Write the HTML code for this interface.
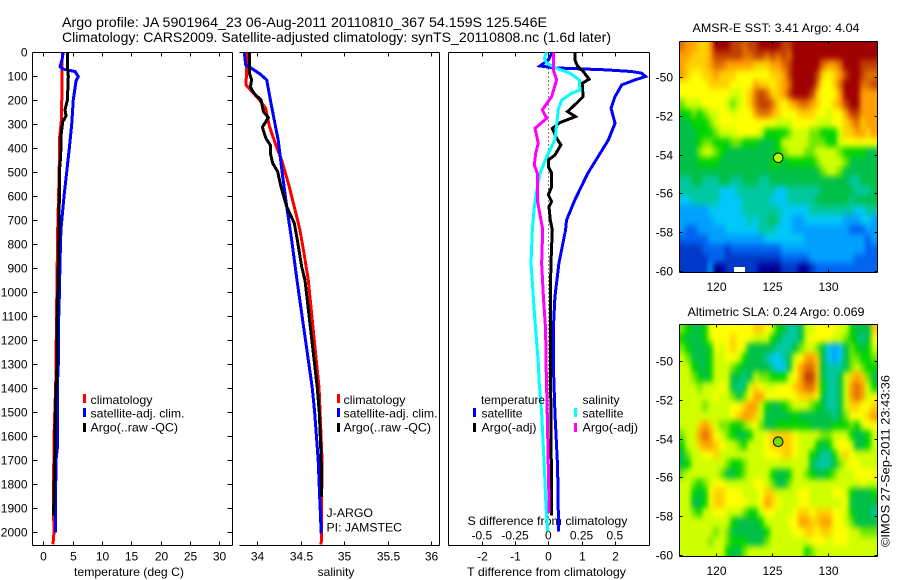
<!DOCTYPE html>
<html>
<head>
<meta charset="utf-8">
<title>Argo profile chart</title>
<style>
html,body{margin:0;padding:0;background:#fff;}
svg{display:block;}
text{font-family:"Liberation Sans",sans-serif;font-size:12px;fill:#000;}
</style>
</head>
<body>
<svg id="chart" xmlns="http://www.w3.org/2000/svg" width="900" height="580" viewBox="0 0 900 580">
<defs>
<filter id="mapBlur" filterUnits="userSpaceOnUse" x="640" y="0" width="260" height="580" color-interpolation-filters="sRGB"><feGaussianBlur stdDeviation="2.4 3.2"/></filter>
<clipPath id="sstClip"><rect x="680" y="41" width="197" height="231"/></clipPath>
<clipPath id="slaClip"><rect x="680" y="324" width="197" height="232"/></clipPath>
</defs>
<text x="62" y="27" style="font-size:14px" textLength="485" lengthAdjust="spacingAndGlyphs">Argo profile: JA 5901964_23 06-Aug-2011 20110810_367 54.159S 125.546E</text>
<text x="62" y="42" style="font-size:14px" textLength="549" lengthAdjust="spacingAndGlyphs">Climatology: CARS2009. Satellite-adjusted climatology: synTS_20110808.nc (1.6d later)</text>
<text x="74" y="576" textLength="110" lengthAdjust="spacingAndGlyphs">temperature (deg C)</text>
<text x="336" y="576" text-anchor="middle">salinity</text>
<text x="467" y="576" textLength="159" lengthAdjust="spacingAndGlyphs">T difference from climatology</text>
<text x="467.5" y="525" textLength="160" lengthAdjust="spacingAndGlyphs">S difference from climatology</text>
<text x="326.5" y="517" textLength="46.5" lengthAdjust="spacingAndGlyphs">J-ARGO</text>
<text x="326.5" y="531.5" textLength="75.5" lengthAdjust="spacingAndGlyphs">PI: JAMSTEC</text>
<text x="692.5" y="32" textLength="167" lengthAdjust="spacingAndGlyphs">AMSR-E SST: 3.41 Argo: 4.04</text>
<text x="687.5" y="316" textLength="177" lengthAdjust="spacingAndGlyphs">Altimetric SLA: 0.24 Argo: 0.069</text>
<text transform="translate(889.5,547) rotate(-90)" textLength="172" lengthAdjust="spacingAndGlyphs">©IMOS 27-Sep-2011 23:43:36</text>
</svg>
<script>
// ---- temperature panel data ----
const depthTicks = [0,100,200,300,400,500,600,700,800,900,1000,1100,1200,1300,1400,1500,1600,1700,1800,1900,2000];
const tempTicks = [0,5,10,15,20,25,30];
const tempClimDepth = [0,100,280,350,500,740,1050,1392,1550,1850,2000,2050];
const tempClimValue = [3.24,3.2,3.1,2.8,2.7,2.45,2.28,2.11,1.88,1.7,1.82,1.65];
const tempSatDepth = [0,30,60,70,80,100,120,200,300,400,500,600,740,879,1018,1157,1297,1392,1650,1700,1950,2000];
const tempSatValue = [3.4,3.2,2.85,3.4,5.4,5.96,5.57,5.1,4.84,4.43,3.98,3.53,3.0,2.84,2.73,2.56,2.56,2.39,2.39,2.16,2.05,2.05];
const tempArgoDepth = [0,60,100,200,240,265,290,350,400,450,500,600,740,879,1018,1157,1297,1450,1700,1900,1930];
const tempArgoValue = [4.09,4.09,4.26,4.1,3.7,3.87,3.3,3.0,3.0,2.9,2.73,2.73,2.67,2.56,2.45,2.33,2.33,2.1,1.94,1.77,1.77];

// ---- salinity panel data ----
const salTicks = [34,34.5,35,35.5,36];
const salTickLabels = ['34','34.5','35','35.5','36'];
const salClimDepth = [0,136,150,192,233,310,393,449,546,643,740,838,949,1399,1699,2050];
const salClimValue = [33.885,33.87,33.905,34.01,34.096,34.14,34.22,34.28,34.357,34.425,34.49,34.537,34.586,34.71,34.744,34.735];
const salSatDepth = [0,53,67,90,115,227,365,503,643,782,949,1399,1503,1700,1853,2005];
const salSatValue = [33.85,33.867,33.935,34.03,34.108,34.165,34.24,34.287,34.338,34.395,34.456,34.632,34.66,34.70,34.717,34.735];
const salArgoDepth = [0,86,115,144,170,199,247,272,312,357,387,420,462,497,560,643,712,782,893,949,1399,1503,1700,1853];
const salArgoValue = [33.908,33.908,33.935,33.92,33.96,34.043,34.07,34.127,34.058,34.097,34.15,34.15,34.177,34.234,34.272,34.338,34.425,34.46,34.51,34.548,34.69,34.713,34.735,34.74];

// ---- difference panel data ----
const tDiffTicks = [-2,-1,0,1,2];
const sDiffTicks = [-0.5,-0.25,0,0.25,0.5];
const sDiffTickLabels = ['-0.5','-0.25','0','0.25','0.5'];
const tDiffSatDepth = [0,32,57,65,73,80,87,101,115,136,185,233,296,365,428,504,615,699,740,879,1018,1157,1295,1503,1727,1997];
const tDiffSatValue = [0.12,0,-0.25,0.2,1.71,2.51,2.81,2.93,2.61,2.21,2.01,1.89,2.01,1.81,1.53,1.19,0.8,0.55,0.52,0.32,0.2,0.15,0.15,0.2,0.28,0.31];
const tDiffArgoDepth = [0,32,57,80,112,129,185,212,247,268,293,317,358,386,428,449,476,504,560,594,622,643,699,740,879,1018,1157,1295,1503,1930];
const tDiffArgoValue = [0.8,0.8,0.88,1.05,1.23,1.02,1.05,0.85,0.58,0.82,0.35,0.12,0.25,0.38,0.2,0,0,0.1,0.1,0,0.1,0.02,0.06,0.12,0.08,0.06,0.06,0.06,0.08,0.1];
const sDiffSatDepth = [0,25,46,67,87,115,157,171,199,240,365,435,504,574,643,740,879,1018,1157,1295,1365,1503,1727,1895,1997];
const sDiffSatValue = [-0.012,-0.03,-0.012,0.063,0.163,0.233,0.238,0.176,0.1,0.075,0.05,-0.012,-0.062,-0.087,-0.105,-0.12,-0.13,-0.113,-0.095,-0.075,-0.07,-0.05,-0.03,-0.017,-0.005];
const sDiffArgoDepth = [0,73,115,185,240,275,317,379,421,469,504,615,699,740,879,1018,1157,1295,1503,1920];
const sDiffArgoValue = [0.038,0.038,0.063,0.025,-0.045,-0.012,-0.1,-0.075,-0.095,-0.105,-0.083,-0.083,-0.055,-0.042,-0.05,-0.037,-0.02,-0.017,-0.008,0.007];

// ---- map data (colour level per 0.5 degree cell, north to south) ----
const mapLonTicks = [120,125,130];
const mapLatTicks = [-50,-52,-54,-56,-58,-60];
const floatLon = [125.55];
const floatLat = [-54.16];
const sstCellLevels = [
[13,12,12,11,11,12,15,15,15,14,14,13,14,14,15,15,15,15,14,14,15,15,15,15,15,15,15,15,15,15,15,15,15,15,15],
[12,12,11,11,11,12,14,14,14,14,14,13,13,14,14,13,14,13,14,13,15,15,15,15,15,15,15,15,15,15,15,15,15,15,15],
[12,11,11,11,11,12,13,13,12,12,12,12,12,11,11,11,12,12,13,14,15,15,15,15,15,13,12,12,13,15,15,15,14,14,14],
[12,11,10,10,11,11,12,11,11,11,10,10,10,10,10,10,11,11,12,14,15,15,15,15,14,11,10,11,12,14,15,15,14,13,13],
[10,10,10,10,10,11,11,11,11,10,10,10,10,12,11,11,10,11,12,13,15,15,15,15,13,10,10,11,13,15,15,15,13,13,14],
[10,10,10,10,10,10,10,10,10,9,9,10,11,13,14,13,11,11,12,14,15,15,15,14,11,10,10,10,12,15,15,15,12,12,12],
[8,9,9,9,10,10,10,10,9,8,9,10,11,13,14,14,13,11,10,11,12,13,13,12,11,10,10,11,12,14,15,15,12,12,12],
[7,7,8,7,8,9,9,10,10,9,10,10,10,12,13,13,12,11,10,10,10,11,11,11,10,10,9,10,10,12,14,14,12,12,12],
[6,6,7,7,7,8,9,10,10,10,10,10,10,10,10,10,10,9,9,9,10,10,10,10,9,9,9,10,10,11,12,13,11,12,12],
[6,6,6,7,7,7,8,9,9,9,10,10,10,10,9,7,7,7,7,8,9,9,9,8,8,7,7,7,9,11,11,12,12,11,12],
[6,6,6,7,8,8,7,7,7,8,8,7,7,7,6,6,6,7,9,9,9,9,9,8,8,8,7,7,9,10,10,10,10,10,10],
[6,6,6,8,9,9,8,7,6,6,6,6,6,6,6,6,6,7,8,9,9,9,8,8,9,9,9,9,8,7,7,7,7,6,6],
[6,6,6,7,7,7,7,6,6,6,6,6,6,6,6,6,7,7,6,7,7,7,7,7,8,9,9,9,9,8,6,6,6,6,6],
[6,6,6,6,6,6,6,6,6,6,6,6,6,6,6,6,6,6,6,6,6,6,6,6,6,8,9,9,8,6,6,6,6,6,6],
[5,5,6,6,5,5,5,6,6,5,5,6,6,6,5,5,6,6,6,6,6,6,6,6,6,6,6,6,6,6,5,5,6,6,6],
[5,5,5,5,5,5,5,4,4,4,5,5,5,5,5,5,5,4,4,5,5,5,5,5,5,6,6,6,6,6,6,5,5,5,6],
[4,4,5,5,5,5,5,4,4,4,4,5,5,5,5,5,4,4,4,5,5,5,5,5,6,6,6,6,6,6,5,6,6,6,6],
[3,3,3,3,3,4,4,4,4,4,4,5,5,5,5,5,5,5,4,4,4,4,4,5,5,5,5,5,5,5,5,4,4,5,5],
[3,3,3,3,3,3,4,4,4,4,4,4,5,4,5,5,6,5,4,4,3,3,4,4,4,4,4,4,4,3,3,3,4,4,3],
[3,2,2,3,3,3,3,3,4,4,4,4,4,4,5,5,5,4,4,4,3,3,3,3,3,3,3,3,3,3,2,2,2,3,3],
[2,2,2,2,2,3,3,3,3,3,3,3,3,3,3,4,4,4,4,4,4,4,3,3,3,3,3,3,3,3,3,3,3,2,3],
[1,1,1,1,2,2,2,2,1,2,2,2,2,2,2,2,2,2,3,3,3,3,3,3,3,3,3,3,3,3,3,3,3,2,2],
[1,1,1,1,1,2,2,2,1,1,1,1,1,1,1,1,1,1,2,2,2,2,2,3,3,3,3,3,3,3,3,2,2,2,2],
[1,1,1,1,1,3,0,0,1,1,1,1,1,1,0,0,0,0,1,1,1,0,0,1,2,2,2,2,2,2,2,2,2,2,2]
];
const slaCellLevels = [
[8,7,6,6,7,10,10,10,10,10,10,10,10,11,11,10,9,7,6,5,5,6,9,9,10,10,10,10,9,9,7,6,6,6,11],
[7,6,6,6,7,9,10,10,10,11,10,10,10,9,9,9,7,6,5,5,5,6,9,10,10,10,10,9,9,8,7,6,5,6,10],
[8,7,6,6,6,7,10,9,10,11,10,9,6,6,6,6,6,5,5,5,6,8,9,9,8,6,4,3,4,6,8,7,6,7,9],
[9,8,6,6,6,7,9,9,10,10,9,7,6,6,6,5,4,4,5,6,9,10,12,12,11,6,4,3,4,6,8,8,7,7,8],
[9,9,7,6,6,7,9,9,9,8,7,6,6,6,6,6,5,4,4,6,10,12,13,13,11,6,5,5,5,6,8,9,8,7,7],
[9,9,8,7,6,7,9,9,9,6,6,5,6,9,8,8,7,7,7,9,10,12,14,14,11,6,5,5,6,9,11,12,11,8,6],
[9,9,9,8,9,9,9,10,9,6,5,6,9,11,10,9,9,10,10,10,11,12,13,13,11,7,5,5,6,9,12,13,12,9,7],
[9,9,9,9,9,9,10,9,9,8,6,8,10,12,12,10,10,10,10,10,10,11,11,11,10,6,5,5,6,9,12,13,12,9,10],
[9,9,9,9,8,9,9,9,9,10,10,11,12,12,9,7,6,6,7,8,9,9,9,8,7,6,5,5,6,9,11,11,10,10,11],
[9,9,9,9,9,9,9,9,9,10,11,12,12,11,9,6,6,6,6,6,7,6,6,6,6,6,6,5,6,8,10,10,10,11,12],
[9,9,9,11,12,11,9,8,8,7,7,8,9,10,8,6,6,7,7,7,7,7,7,6,6,6,6,7,7,7,8,7,9,10,10],
[8,9,9,12,13,12,10,9,8,7,6,6,7,9,9,10,11,11,11,11,10,9,9,9,9,8,8,9,9,9,7,6,6,7,9],
[7,9,9,11,12,12,11,10,9,9,8,7,9,9,9,10,11,11,11,11,10,9,9,9,7,6,7,9,10,10,9,6,6,7,9],
[6,8,9,9,10,10,11,9,9,9,9,9,9,9,9,10,10,10,11,11,10,9,9,7,6,5,5,7,9,11,10,9,9,9,9],
[6,7,9,9,9,9,9,9,8,7,7,8,9,9,9,9,9,9,9,9,9,9,9,6,5,5,5,6,8,9,10,10,9,9,9],
[8,9,9,9,9,9,9,8,6,6,7,8,9,9,9,9,7,6,6,7,9,9,8,7,6,6,7,8,9,9,9,10,10,10,10],
[9,9,8,7,8,9,10,10,9,9,9,9,9,10,10,9,8,6,6,8,9,9,9,9,9,9,9,9,9,9,9,9,10,9,9],
[9,9,7,6,7,10,11,11,10,10,10,9,9,9,10,11,11,9,9,9,9,10,10,9,9,9,9,10,10,9,7,6,6,6,7],
[9,9,6,6,7,10,11,11,10,10,10,10,9,9,10,12,11,10,9,9,9,10,10,9,9,9,9,9,9,10,6,6,6,6,6],
[9,9,8,7,9,9,10,10,9,9,9,8,7,7,9,10,10,9,9,9,10,11,11,10,11,11,11,10,10,9,7,6,6,6,5],
[9,9,9,9,9,9,9,9,9,7,6,6,6,6,7,9,9,9,9,10,10,12,12,11,11,12,12,10,10,9,8,6,6,6,6],
[9,9,9,9,9,9,8,9,8,6,6,6,6,6,6,7,9,9,9,9,10,10,11,11,10,11,11,10,10,10,9,9,8,8,8],
[9,9,9,9,9,8,9,9,8,7,7,7,6,6,6,8,9,9,9,9,9,9,9,10,10,10,9,10,10,10,9,9,9,9,9],
[9,9,9,9,9,9,9,9,7,6,6,8,9,9,9,9,9,9,9,9,9,9,7,8,9,9,9,9,9,9,9,9,9,9,9]
];

const svg = document.getElementById('chart');
const NS = 'http://www.w3.org/2000/svg';
const palette = ['#000098','#0038c8','#0064f0','#00a0ff','#00c8f8','#00c8a0','#00c048','#00d400','#70e800','#d0ff00','#ffff00','#ffd000','#ffa000','#e07000','#c04000','#a00000'];
function levelColor(v){ return palette[Math.max(0,Math.min(palette.length-1,Math.round(v)))]; }

function line(x1,y1,x2,y2,name,color,dash){
  const el = document.createElementNS(NS,'line');
  el.setAttribute('x1',x1); el.setAttribute('y1',y1); el.setAttribute('x2',x2); el.setAttribute('y2',y2);
  el.setAttribute('stroke',color||'#000'); el.setAttribute('stroke-width',1);
  el.setAttribute('shape-rendering','crispEdges');
  if(dash) el.setAttribute('stroke-dasharray',dash);
  
  
  svg.appendChild(el);
  return el;
}
function label(x,y,str,anchor,name,len){
  const el = document.createElementNS(NS,'text');
  el.setAttribute('x',x); el.setAttribute('y',y);
  el.setAttribute('text-anchor',anchor||'start');
  if(len){ el.setAttribute('textLength',len); el.setAttribute('lengthAdjust','spacingAndGlyphs'); }
  el.textContent = str;
  
  
  svg.appendChild(el);
  return el;
}
function series(depths,values,xScale,yScale,color,name,width){
  const el = document.createElementNS(NS,'polyline');
  el.setAttribute('points',depths.map((d,i)=>xScale(values[i]).toFixed(2)+','+yScale(d).toFixed(2)).join(' '));
  el.setAttribute('fill','none'); el.setAttribute('stroke',color); el.setAttribute('stroke-width',width||3);
  el.setAttribute('shape-rendering','crispEdges');
  
  
  svg.appendChild(el);
}
function legendBar(x,y,color,name){
  const el = document.createElementNS(NS,'rect');
  el.setAttribute('x',x); el.setAttribute('y',y); el.setAttribute('width',3); el.setAttribute('height',9);
  el.setAttribute('fill',color);
  
  
  svg.appendChild(el);
}

const top0 = 52.5, bot0 = 545.5;
const yDepth = d => 52.3 + d*0.24;
const xTemp = t => 43.3 + t*5.87;
const xSal = s => 257.3 + (s-34)*87;
const xTDiff = t => 548.3 + t*33.2;
const xSDiff = s => 548.3 + s*133;

// panel frames
const pL = [32.5,239.5,448.5], pR = [232.5,439.5,649.5];
pL.forEach((l,i)=>{
  line(l,top0,pR[i],top0,'panel-top-border');
  line(l,bot0,pR[i],bot0,'panel-bottom-border');
  line(pR[i],top0,pR[i],bot0,'panel-right-border');
  if(i!==1) line(l,top0,l,bot0,'panel-left-border');
});
// depth ticks panel 1
depthTicks.forEach(d=>{
  const y = Math.round(yDepth(d))+0.5;
  line(32.5,y,37.5,y,'depth-tick-left');
  line(227.5,y,232.5,y,'depth-tick-right');
  label(27.5,y+4,String(d),'end','depth-tick-label');
});
// temp x axis
tempTicks.forEach(t=>{
  const x = Math.round(xTemp(t))+0.5;
  line(x,top0,x,top0+4,'temperature-tick-top');
  line(x,bot0-4,x,bot0,'temperature-tick-bottom');
  label(x,560.5,String(t),'middle','temperature-tick-label');
});
// sal x axis
salTicks.forEach((s,i)=>{
  const x = Math.round(xSal(s))+0.5;
  line(x,top0,x,top0+4,'salinity-tick-top');
  line(x,bot0-4,x,bot0,'salinity-tick-bottom');
  label(x,560.5,salTickLabels[i],'middle','salinity-tick-label');
});
// diff x axes
tDiffTicks.forEach(t=>{
  const x = Math.round(xTDiff(t))+0.5;
  line(x,top0,x,top0+4,'t-difference-tick-top');
  line(x,bot0-4,x,bot0,'t-difference-tick-bottom');
  label(x,560.5,String(t),'middle','t-difference-tick-label');
});
sDiffTicks.forEach((s,i)=>{
  label(xSDiff(s),539.5,sDiffTickLabels[i],'middle','s-difference-tick-label');
});

// series
series(tempClimDepth,tempClimValue,xTemp,yDepth,'#ff0000','temperature-climatology-line');
series(tempSatDepth,tempSatValue,xTemp,yDepth,'#0000ff','temperature-satellite-line');
series(tempArgoDepth,tempArgoValue,xTemp,yDepth,'#000000','temperature-argo-line');
series(salClimDepth,salClimValue,xSal,yDepth,'#ff0000','salinity-climatology-line');
series(salSatDepth,salSatValue,xSal,yDepth,'#0000ff','salinity-satellite-line');
series(salArgoDepth,salArgoValue,xSal,yDepth,'#000000','salinity-argo-line');
line(548.5,52.5,548.5,yDepth(1950),'zero-difference-line','#000','1 3');
series(tDiffSatDepth,tDiffSatValue,xTDiff,yDepth,'#0000ff','t-difference-satellite-line');
series(tDiffArgoDepth,tDiffArgoValue,xTDiff,yDepth,'#000000','t-difference-argo-line');
series(sDiffSatDepth,sDiffSatValue,xSDiff,yDepth,'#00ffff','s-difference-satellite-line');
series(sDiffArgoDepth,sDiffArgoValue,xSDiff,yDepth,'#ff00ff','s-difference-argo-line');

// legends
const legY = [394,408,423], legBase = [404,417.5,431.5];
[['climatology','#ff0000',62],['satellite-adj. clim.','#0000ff',94],['Argo(..raw -QC)','#000000',87.5]].forEach((e,i)=>{
  legendBar(83,legY[i],e[1],'temperature-legend-swatch');
  label(90.5,legBase[i],e[0],'start','temperature-legend-label',e[2]);
  legendBar(337,legY[i],e[1],'salinity-legend-swatch');
  label(343.5,legBase[i],e[0],'start','salinity-legend-label',e[2]);
});
label(481,legBase[0],'temperature','start','difference-legend-temperature-header',64);
label(582.5,legBase[0],'salinity','start','difference-legend-salinity-header',37);
legendBar(473,legY[1],'#0000ff','difference-legend-swatch');
label(481.5,legBase[1],'satellite','start','difference-legend-label',41);
legendBar(473,legY[2],'#000000','difference-legend-swatch');
label(481.5,legBase[2],'Argo(-adj)','start','difference-legend-label',55);
legendBar(574,legY[1],'#00ffff','difference-legend-swatch');
label(582.5,legBase[1],'satellite','start','difference-legend-label',41);
legendBar(574,legY[2],'#ff00ff','difference-legend-swatch');
label(582.5,legBase[2],'Argo(-adj)','start','difference-legend-label',55.5);

// maps
function drawMap(levels,topLat,pxTop,pxBot,mapName,tickBase,clipId){
  const lonX = lon => 715.7 + (lon-120)*11.26;
  const latY = lat => pxTop + (topLat-lat)*19.33;
  const lonStart = 116.8;
  const clipGroup = document.createElementNS(NS,'g');
  clipGroup.setAttribute('clip-path','url(#'+clipId+')');
  
  
  const cells = document.createElementNS(NS,'g');
  cells.setAttribute('filter','url(#mapBlur)');
  
  
  clipGroup.appendChild(cells);
  svg.appendChild(clipGroup);
  const pad = 14;
  levels.forEach((row,r)=>{
    row.forEach((v,c)=>{
      let x0 = Math.round(lonX(lonStart+c*0.5)), x1 = Math.round(lonX(lonStart+(c+1)*0.5));
      let y0 = Math.round(latY(topLat-r*0.5)), y1 = Math.round(latY(topLat-(r+1)*0.5));
      if(c===0) x0 -= pad;
      if(c===row.length-1) x1 += pad;
      if(r===0) y0 -= pad;
      if(r===levels.length-1) y1 += pad;
      const el = document.createElementNS(NS,'rect');
      el.setAttribute('x',x0); el.setAttribute('y',y0);
      el.setAttribute('width',x1-x0); el.setAttribute('height',y1-y0);
      el.setAttribute('fill',levelColor(v));
      el.setAttribute('shape-rendering','crispEdges');
      
      
      cells.appendChild(el);
    });
  });
  const L = 679.5, R = 877.5, T = pxTop+0.5, B = pxBot+0.5;
  line(L,T,R,T,mapName+'-top-border');
  line(L,B,R,B,mapName+'-bottom-border');
  line(L,T,L,B,mapName+'-left-border');
  line(R,T,R,B,mapName+'-right-border');
  mapLonTicks.forEach(lon=>{
    const x = Math.round(lonX(lon))+0.5;
    line(x,T,x,T+3,mapName+'-lon-tick');
    line(x,B-3,x,B,mapName+'-lon-tick');
    label(x,tickBase,String(lon),'middle',mapName+'-lon-label');
  });
  mapLatTicks.forEach(lat=>{
    const y = Math.round(latY(lat))+0.5;
    line(L,y,L+3,y,mapName+'-lat-tick');
    line(R-3,y,R,y,mapName+'-lat-tick');
    label(673,y+4,String(lat),'end',mapName+'-lat-label');
  });
  const m = document.createElementNS(NS,'circle');
  m.setAttribute('cx',lonX(floatLon[0])); m.setAttribute('cy',latY(floatLat[0]));
  m.setAttribute('r',4.8);
  m.setAttribute('fill',mapName==='sst-map'?'#b0ff00':'#70e000');
  m.setAttribute('stroke','#000'); m.setAttribute('stroke-width',1);
  
  
  svg.appendChild(m);
}
drawMap(sstCellLevels,-48.12,41,272,'sst-map',291,'sstClip');
drawMap(slaCellLevels,-48.07,324,556,'sla-map',575,'slaClip');
const gap = document.createElementNS(NS,'rect');
gap.setAttribute('x',734); gap.setAttribute('y',267); gap.setAttribute('width',11); gap.setAttribute('height',5);
gap.setAttribute('fill','#fff');


svg.appendChild(gap);
</script>
</body>
</html>
